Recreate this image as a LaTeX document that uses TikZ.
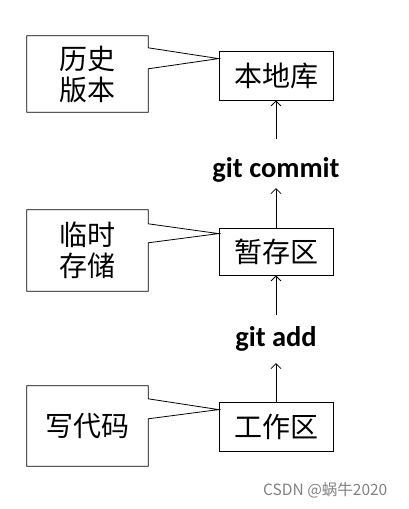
\documentclass[tikz,border=0pt]{standalone}
\usepackage{fontspec}
\newfontfamily\cjk{Noto Sans CJK SC}
\newfontfamily\lat{Carlito}
\usetikzlibrary{arrows.meta}
\begin{document}
\begin{tikzpicture}[x=1pt,y=-1pt,
  stage/.style={draw,line width=0.8pt,minimum width=114pt,minimum height=49pt,inner sep=0pt,font=\cjk\fontsize{28}{30}\selectfont},
  note/.style={minimum width=121pt,inner sep=0pt,font=\cjk\fontsize{28}{31}\selectfont,align=center},
  cmd/.style={font=\lat\bfseries\fontsize{28.5}{30}\selectfont,inner sep=0pt,anchor=base},
  flow/.style={line width=0.8pt,-{Straight Barb[length=5pt,width=10pt]}},
  outline/.style={line width=0.8pt,line join=miter}]
\useasboundingbox (0,0) rectangle (409,509);
% stages
\node[stage] (repo) at (276,75.5) {本地库};
\node[stage,minimum height=47pt] (stage) at (276,251.5) {暂存区};
\node[stage] (work) at (276,426.5) {工作区};
% commands
\node[cmd] (commit) at (276,177) {git commit};
\node[cmd] (add) at (276,346) {git add};
\coordinate (addlo) at ([yshift=-17pt]add.base);
\coordinate (addhi) at ([yshift=31pt]add.base);
\coordinate (comlo) at ([yshift=-11pt]commit.base);
\coordinate (comhi) at ([yshift=38pt]commit.base);
% arrows
\draw[flow] (work.north) -- (addlo);
\draw[flow] (addhi) -- (stage.south);
\draw[flow] (stage.north) -- (comlo);
\draw[flow] (comhi) -- (repo.south);
% notes
\node[note,minimum height=76pt] (hist) at (87.5,74) {历史\\版本};
\node[note,minimum height=81pt] (tmp) at (87.5,250.5) {临时\\存储};
\node[note,minimum height=80pt] (code) at (87.5,426) {写代码};
\coordinate (t1) at ([yshift=-8pt]repo.north west);
\coordinate (t2) at ([yshift=-6pt]stage.north west);
\coordinate (t3) at ([yshift=-8pt]work.north west);
\draw[outline] (hist.north west) -- (hist.north east) -- ([yshift=-12pt]hist.north east) -- (t1) -- ([yshift=-33pt]hist.north east) -- (hist.south east) -- (hist.south west) -- cycle;
\draw[outline] (tmp.north west) -- (tmp.north east) -- ([yshift=-14pt]tmp.north east) -- (t2) -- ([yshift=-33pt]tmp.north east) -- (tmp.south east) -- (tmp.south west) -- cycle;
\draw[outline] (code.north west) -- (code.north east) -- ([yshift=-13pt]code.north east) -- (t3) -- ([yshift=-33pt]code.north east) -- (code.south east) -- (code.south west) -- cycle;
% watermark
\node[font=\cjk\fontsize{15.5}{17}\selectfont,text=black!50,anchor=base west,inner sep=0pt] (wm) at (263,495) {CSDN @蜗牛2020};
\end{tikzpicture}
\end{document}
